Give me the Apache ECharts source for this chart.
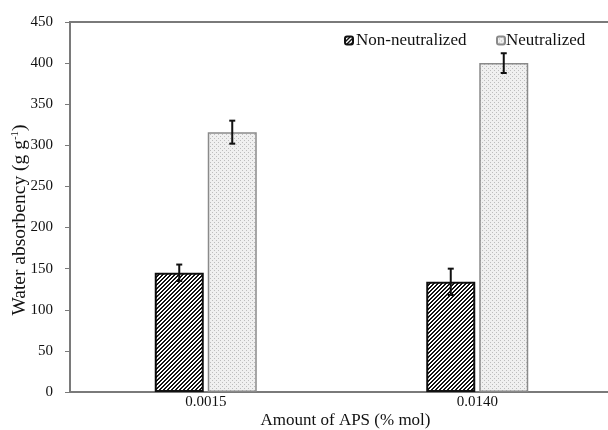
<!DOCTYPE html>
<html>
<head>
<meta charset="utf-8">
<script src="https://cdn.jsdelivr.net/npm/echarts@6/dist/echarts.min.js"></script>
<style>
html,body{margin:0;padding:0;background:#fff;}
#chart{width:608px;height:430px;}
</style>
</head>
<body>
<div id="chart"></div>
<script>
// ---- data ----
var categories = ['0.0015', '0.0140'];
var seriesNames = ['Non-neutralized', 'Neutralized'];
var nonNeutralized = [145, 134];
var nonNeutralizedErr = [10, 16];
var neutralized = [316, 400];
var neutralizedErr = [14, 12];
var yTicks = [0, 450, 50]; // min, max, interval

// ---- style constants ----
var FONT = '"Liberation Serif", "Times New Roman", serif';
var BAR_W = 49;
var BAR_GAP_PX = 4;

function makeHatch() {
  var c = document.createElement('canvas');
  c.width = 4; c.height = 4;
  var ctx = c.getContext('2d');
  ctx.fillStyle = '#ffffff';
  ctx.fillRect(0, 0, 4, 4);
  ctx.fillStyle = '#111111';
  for (var x = 0; x < 4; x++) {
    for (var y = 0; y < 4; y++) {
      if ((x + y) % 4 < 2) ctx.fillRect(x, y, 1, 1);
    }
  }
  return c;
}
function makeDots() {
  var c = document.createElement('canvas');
  c.width = 4; c.height = 4;
  var ctx = c.getContext('2d');
  ctx.fillStyle = '#f0f0f0';
  ctx.fillRect(0, 0, 4, 4);
  ctx.fillStyle = '#bdbdbd';
  ctx.fillRect(0, 0, 1, 1);
  ctx.fillRect(2, 2, 1, 1);
  return c;
}

var hatchColor = { image: makeHatch(), repeat: 'repeat' };
var dotColor = { image: makeDots(), repeat: 'repeat' };

function errData(vals, errs) {
  return vals.map(function (v, i) { return [i, v, errs[i]]; });
}
function errRenderer(offset) {
  return function (params, api) {
    var x = api.coord([api.value(0), 0])[0] + offset;
    var v = api.value(1), e = api.value(2);
    var hi = api.coord([api.value(0), v + e])[1];
    var lo = api.coord([api.value(0), v - e])[1];
    var st = { stroke: '#111', lineWidth: 2 };
    return {
      type: 'group',
      children: [
        { type: 'line', shape: { x1: x, y1: hi, x2: x, y2: lo }, style: st },
        { type: 'line', shape: { x1: x - 3, y1: hi, x2: x + 3, y2: hi }, style: st },
        { type: 'line', shape: { x1: x - 3, y1: lo, x2: x + 3, y2: lo }, style: st }
      ]
    };
  };
}
var halfStep = (BAR_W + BAR_GAP_PX) / 2;

var chart = echarts.init(document.getElementById('chart'), null, { renderer: 'canvas' });
chart.setOption({
  animation: false,
  backgroundColor: '#ffffff',
  textStyle: { fontFamily: FONT },
  grid: {
    left: 70, right: -5, top: 22, bottom: 38,
    containLabel: false, outerBoundsMode: 'none',
    show: true, borderColor: '#7a7a7a', borderWidth: 2, backgroundColor: 'transparent'
  },
  legend: [
    {
      data: [seriesNames[0]], left: 344, top: 32, padding: 0,
      itemWidth: 8, itemHeight: 8, itemGap: 0,
      textStyle: { fontFamily: FONT, fontSize: 17, color: '#111', padding: [0, 0, 0, -2] }
    },
    {
      data: [seriesNames[1]], left: 496, top: 32, padding: 0,
      itemWidth: 8, itemHeight: 8, itemGap: 0,
      textStyle: { fontFamily: FONT, fontSize: 17, color: '#111', padding: [0, 0, 0, -4] }
    }
  ],
  xAxis: {
    type: 'category',
    data: categories,
    axisLine: { lineStyle: { color: '#7a7a7a', width: 2 } },
    axisTick: { show: false },
    axisLabel: { fontFamily: FONT, fontSize: 15, color: '#111', margin: 3 },
    name: 'Amount of APS (% mol)',
    nameLocation: 'middle',
    nameMoveOverlap: false,
    nameGap: 20,
    nameTextStyle: { fontFamily: FONT, fontSize: 17, color: '#111', padding: [0, 0, 0, 8] }
  },
  yAxis: {
    type: 'value',
    min: yTicks[0], max: yTicks[1], interval: yTicks[2],
    axisLine: { show: true, lineStyle: { color: '#7a7a7a', width: 2 } },
    axisTick: { show: true, length: 5, lineStyle: { color: '#7a7a7a', width: 1 } },
    splitLine: { show: false },
    axisLabel: { fontFamily: FONT, fontSize: 15, color: '#111', margin: 17 },
    name: 'Water absorbency (g g{sup|-1})',
    nameLocation: 'middle',
    nameMoveOverlap: false,
    nameRotate: 90,
    nameGap: 40,
    nameTextStyle: {
      fontFamily: FONT, fontSize: 19.5, color: '#111', padding: [0, 26, 0, 0],
      rich: { sup: { fontFamily: FONT, fontSize: 11, color: '#111', verticalAlign: 'top', padding: [0, 0, 9, 0] } }
    }
  },
  series: [
    {
      name: seriesNames[0], type: 'bar', data: nonNeutralized,
      barWidth: BAR_W, barGap: (BAR_GAP_PX / BAR_W * 100) + '%',
      itemStyle: { color: hatchColor, borderColor: '#111', borderWidth: 2 }
    },
    {
      name: seriesNames[1], type: 'bar', data: neutralized,
      barWidth: BAR_W,
      itemStyle: { color: dotColor, borderColor: '#8a8a8a', borderWidth: 1.5 }
    },
    {
      type: 'custom', data: errData(nonNeutralized, nonNeutralizedErr),
      renderItem: errRenderer(-halfStep), z: 10, silent: true
    },
    {
      type: 'custom', data: errData(neutralized, neutralizedErr),
      renderItem: errRenderer(halfStep), z: 10, silent: true
    }
  ]
});
</script>
</body>
</html>
